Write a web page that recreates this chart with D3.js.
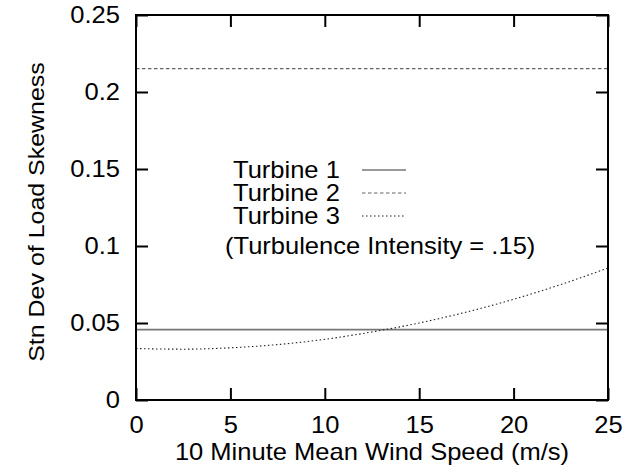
<!DOCTYPE html>
<html>
<head>
<meta charset="utf-8">
<script src="https://cdn.jsdelivr.net/npm/d3@7"></script>
<style>
  body { margin: 0; background: #fff; }
  text { font-family: "Liberation Sans", Arial, sans-serif; fill: #000; }
</style>
</head>
<body>
<div id="chart"></div>
<script>
// data
var windSpeed = [0, 2.5, 5, 7.5, 10, 12.5, 15, 17.5, 20, 22.5, 25];
var turbine1 = [0.0457, 0.0457, 0.0457, 0.0457, 0.0457, 0.0457, 0.0457, 0.0457, 0.0457, 0.0457, 0.0457];
var turbine2 = [0.2152, 0.2152, 0.2152, 0.2152, 0.2152, 0.2152, 0.2152, 0.2152, 0.2152, 0.2152, 0.2152];
var turbine3 = [0.0334, 0.0330, 0.0339, 0.0360, 0.0394, 0.0442, 0.0500, 0.0571, 0.0654, 0.0750, 0.0857];
var xTicks = [0, 5, 10, 15, 20, 25];
var yTicks = [0, 0.05, 0.1, 0.15, 0.2, 0.25];
var yTickLabels = ["0", "0.05", "0.1", "0.15", "0.2", "0.25"];
var seriesNames = ["Turbine 1", "Turbine 2", "Turbine 3"];
var note = "(Turbulence Intensity = .15)";

var W = 632, H = 476;
var margin = {top: 15, right: 24, bottom: 76, left: 136};
var width = W - margin.left - margin.right;
var height = H - margin.top - margin.bottom;
var fs = 23;
var sx = 1.11; // text in the reference is a little wide

var svg = d3.select("#chart").append("svg")
  .attr("width", W).attr("height", H);
var g = svg.append("g")
  .attr("transform", "translate(" + margin.left + "," + margin.top + ")");

var x = d3.scaleLinear().domain([0, 25]).range([0, width]);
var y = d3.scaleLinear().domain([0, 0.25]).range([height, 0]);

// series styles
var styles = [
  {stroke: "#777", width: 1.6, dash: null},
  {stroke: "#666", width: 1.1, dash: "3.5,2.5"},
  {stroke: "#222", width: 1.1, dash: "1.5,2.5"}
];
var series = [turbine1, turbine2, turbine3];

var line = d3.line()
  .x(function(d, i) { return x(windSpeed[i]); })
  .y(function(d) { return y(d); })
  .curve(d3.curveMonotoneX);

series.forEach(function(s, k) {
  g.append("path")
    .datum(s)
    .attr("fill", "none")
    .attr("stroke", styles[k].stroke)
    .attr("stroke-width", styles[k].width)
    .attr("stroke-dasharray", styles[k].dash)
    .attr("d", line);
});

// frame
g.append("rect")
  .attr("width", width).attr("height", height)
  .attr("fill", "none").attr("stroke", "#000").attr("stroke-width", 2);

// axes, gnuplot style: ticks inward, mirrored
var tl = 12;
g.append("g").attr("transform", "translate(0," + height + ")")
  .call(d3.axisBottom(x).tickValues(xTicks).tickSize(-tl))
  .call(function(a) {
    a.select(".domain").remove();
    a.selectAll(".tick text").attr("y", 0)
      .attr("transform", "translate(0,17) scale(" + sx + ",1)");
  });
g.append("g")
  .call(d3.axisTop(x).tickValues(xTicks).tickSize(-tl).tickFormat(""))
  .call(function(a) { a.select(".domain").remove(); });
g.append("g")
  .call(d3.axisLeft(y).tickValues(yTicks).tickSize(-tl)
    .tickFormat(function(d, i) { return yTickLabels[i]; }))
  .call(function(a) {
    a.select(".domain").remove();
    a.selectAll(".tick text").attr("x", 0)
      .attr("transform", "translate(-16,0) scale(" + sx + ",1)");
  });
g.append("g").attr("transform", "translate(" + width + ",0)")
  .call(d3.axisRight(y).tickValues(yTicks).tickSize(-tl).tickFormat(""))
  .call(function(a) { a.select(".domain").remove(); });

g.selectAll(".tick line").attr("stroke", "#000").attr("stroke-width", 2);
g.selectAll(".tick text").attr("font-size", fs).attr("font-family", null);

// axis titles
svg.append("text")
  .attr("transform", "translate(" + (margin.left + width / 2) + ",460) scale(" + sx + ",1)")
  .attr("text-anchor", "middle").attr("font-size", fs)
  .text("10 Minute Mean Wind Speed (m/s)");
svg.append("text")
  .attr("transform", "translate(44,212) rotate(-90) scale(" + sx + ",1)")
  .attr("text-anchor", "middle").attr("font-size", 22.5)
  .text("Stn Dev of Load Skewness");

// legend
var leg = svg.append("g");
seriesNames.forEach(function(name, k) {
  var by = 178 + k * 23;
  leg.append("text")
    .attr("transform", "translate(233," + by + ") scale(" + sx + ",1)")
    .attr("font-size", fs).text(name);
  leg.append("line")
    .attr("x1", 362).attr("x2", 406)
    .attr("y1", by - 8).attr("y2", by - 8)
    .attr("stroke", styles[k].stroke).attr("stroke-width", styles[k].width)
    .attr("stroke-dasharray", styles[k].dash);
});
leg.append("text")
  .attr("transform", "translate(225,254) scale(" + sx + ",1)")
  .attr("font-size", fs).text(note);
</script>
</body>
</html>
